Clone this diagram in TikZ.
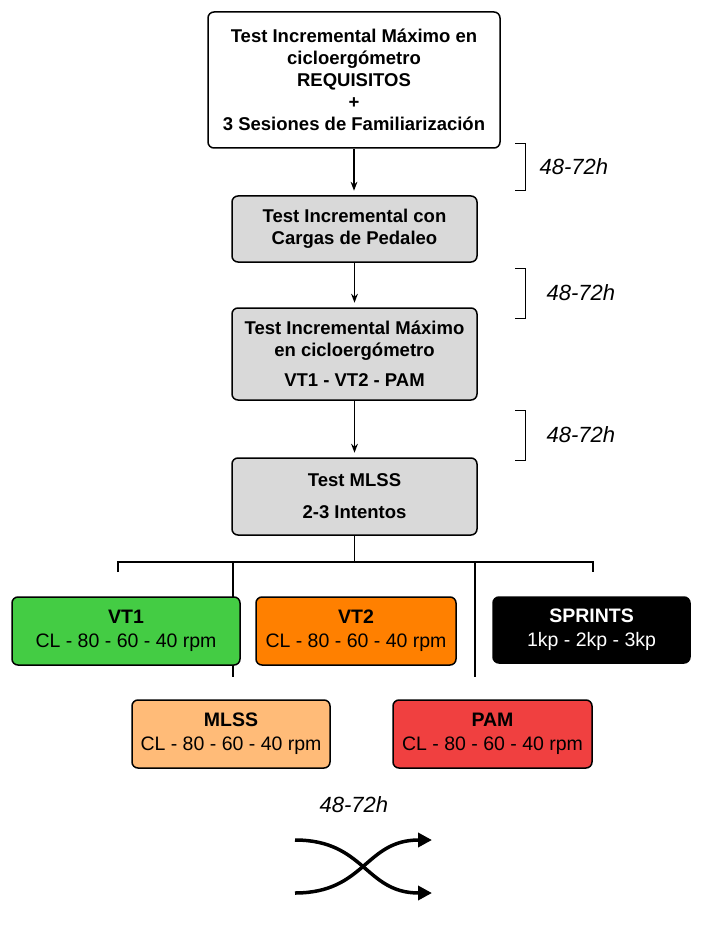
\documentclass[tikz,border=0pt]{standalone}
\usepackage{fontspec}
\setmainfont{Liberation Sans}
\usetikzlibrary{arrows.meta}
\definecolor{cverde}{RGB}{68,204,68}
\definecolor{cnaranja}{RGB}{255,128,0}
\definecolor{cmlss}{RGB}{255,187,120}
\definecolor{cpam}{RGB}{240,64,64}
\tikzset{
  paso/.style={draw, line width=1.5pt, rounded corners=6pt, fill=gray!30, align=center, font=\fontsize{18.5}{22}\selectfont\bfseries, inner sep=0pt},
  zona/.style={draw, line width=1.5pt, rounded corners=6pt, align=center, font=\fontsize{19.5}{24}\selectfont, inner sep=0pt},
  flecha/.style={line width=1.5pt, -{Stealth[length=9pt]}},
  pausa/.style={font=\fontsize{22}{24}\selectfont\itshape, anchor=west},
}
\begin{document}
\begin{tikzpicture}[x=1pt, y=-1pt]
    \useasboundingbox (0,0) rectangle (708,941);

    % Pasos
    \node[paso, fill=white, minimum width=292pt, minimum height=136pt] (req) at (354,80)
        {Test Incremental Máximo en\\cicloergómetro\\REQUISITOS\\+\\3 Sesiones de Familiarización};
    \node[paso, minimum width=245pt, minimum height=66pt] (cargas) at (354.5,229)
        {Test Incremental con\\Cargas de Pedaleo};
    \node[paso, minimum width=245pt, minimum height=92pt] (maximo) at (354.5,354)
        {Test Incremental Máximo\\en cicloergómetro\\[8pt]VT1 - VT2 - PAM};
    \node[paso, minimum width=245pt, minimum height=77pt] (mlsstest) at (354.5,496.5)
        {Test MLSS\\[10pt]2-3 Intentos};

    \draw[flecha] (req.south) -- ++(0,42);
    \draw[flecha] (cargas.south) -- ++(0,40);
    \draw[flecha] (maximo.south) -- ++(0,52);

    % Pausas
    \foreach \ya/\yb/\xt in {143/190/536, 268/318/543, 410/460/543}{
        \draw (515,\ya) -- (525,\ya) -- (525,\yb) -- (515,\yb);
        \node[pausa] at (\xt,{(\ya+\yb)/2}) {48-72h};
    }

    % Reparto
    \coordinate (rama) at (354.5,562);
    \draw[line width=1.5pt] (mlsstest.south) -- (rama);
    \draw[line width=1.5pt] (118,572) -- (118,562) -- (593,562) -- (593,572);
    \draw[line width=1.5pt] (233,562) -- (233,677);
    \draw[line width=1.5pt] (475,562) -- (475,677);

    % Zonas
    \node[zona, fill=cverde, minimum width=228pt, minimum height=68pt] (vt1) at (126,631)
        {\textbf{VT1}\\CL - 80 - 60 - 40 rpm};
    \node[zona, fill=cnaranja, minimum width=200pt, minimum height=68pt] (vt2) at (356,631)
        {\textbf{VT2}\\CL - 80 - 60 - 40 rpm};
    \node[zona, fill=black, text=white, minimum width=197pt, minimum height=66pt] (sprints) at (591.5,630)
        {\textbf{SPRINTS}\\1kp - 2kp - 3kp};
    \node[zona, fill=cmlss, minimum width=198pt, minimum height=68pt] (mlss) at (231,734)
        {\textbf{MLSS}\\CL - 80 - 60 - 40 rpm};
    \node[zona, fill=cpam, minimum width=199pt, minimum height=68pt] (pam) at (492.5,734)
        {\textbf{PAM}\\CL - 80 - 60 - 40 rpm};

    % Aleatorio
    \node[pausa] (ultima) at (316,805) {48-72h};
    \draw[line width=3.5pt, -{Stealth[length=14pt, width=14pt, inset=0pt]}]
        (295,840) .. controls (365,840) and (365,893) .. (432,893);
    \draw[line width=3.5pt, -{Stealth[length=14pt, width=14pt, inset=0pt]}]
        (295,893) .. controls (365,893) and (365,840) .. (432,840);
\end{tikzpicture}
\end{document}
